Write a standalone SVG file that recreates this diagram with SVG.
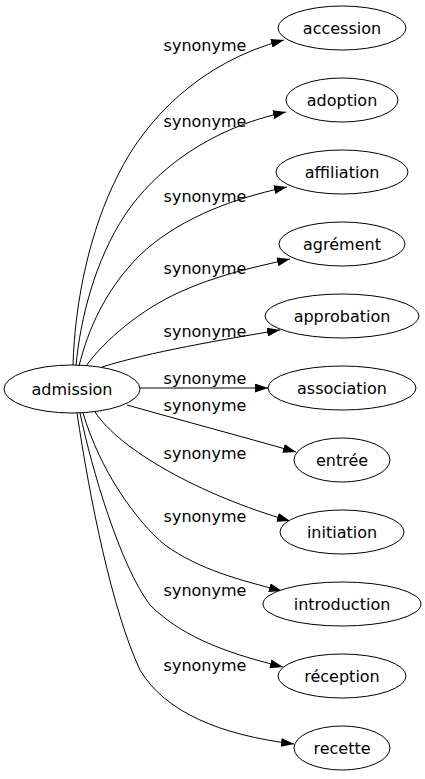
<svg xmlns="http://www.w3.org/2000/svg" width="425" height="779" viewBox="0 0 425 779">
<defs>
<marker id="arr" markerUnits="userSpaceOnUse" viewBox="0 0 13 9" refX="13" refY="4.5" markerWidth="13" markerHeight="9" orient="auto">
<path d="M0,0 L13,4.5 L0,9 z" fill="#000"/>
</marker>
<style>
.n ellipse{fill:#fff;stroke:#000;stroke-width:1}
.n text{font-family:"DejaVu Sans",sans-serif;font-size:16px;text-anchor:middle;fill:#000}
.e path{fill:none;stroke:#000;stroke-width:1;marker-end:url(#arr)}
.e text{font-family:"DejaVu Sans",sans-serif;font-size:16px;text-anchor:middle;fill:#000}
</style>
</defs>
<rect width="425" height="779" fill="#fff"/>
<g id="edges" class="e">
<path d="M73,365 C75,300 90,230 118,175 C145,120 200,62 284,40"/>
<path d="M76,366 C80,320 95,260 125,215 C155,170 210,128 286,112"/>
<path d="M79,366 C88,330 105,290 140,255 C175,222 225,200 287,187"/>
<path d="M86,366 C105,340 140,310 180,292 C215,276 250,268 290,259"/>
<path d="M102,367 C150,352 220,340 280,330"/>
<path d="M140,388 L268,388"/>
<path d="M127,405 C180,420 240,436 296,452"/>
<path d="M95,412 C120,450 200,495 290,521"/>
<path d="M83,413 C100,470 135,520 165,545 C200,570 240,580 282,591"/>
<path d="M80,413 C92,470 120,565 150,605 C185,640 235,655 283,667"/>
<path d="M77,413 C90,500 112,610 140,670 C165,712 220,735 294,744"/>
<text x="205" y="51">synonyme</text>
<text x="205" y="127">synonyme</text>
<text x="205" y="202">synonyme</text>
<text x="205" y="274">synonyme</text>
<text x="205" y="337">synonyme</text>
<text x="205" y="384">synonyme</text>
<text x="205" y="411">synonyme</text>
<text x="205" y="459">synonyme</text>
<text x="205" y="522">synonyme</text>
<text x="205" y="596">synonyme</text>
<text x="205" y="671">synonyme</text>
</g>
<g id="admission" class="n"><ellipse cx="72" cy="389" rx="68" ry="24"/><text x="72" y="395">admission</text></g>
<g id="accession" class="n"><ellipse cx="342" cy="28" rx="64" ry="22"/><text x="342" y="34">accession</text></g>
<g id="adoption" class="n"><ellipse cx="342" cy="100" rx="56" ry="22"/><text x="342" y="106">adoption</text></g>
<g id="affiliation" class="n"><ellipse cx="342" cy="172" rx="66" ry="22"/><text x="342" y="178">affiliation</text></g>
<g id="agrement" class="n"><ellipse cx="342" cy="244" rx="63" ry="22"/><text x="342" y="250">agrément</text></g>
<g id="approbation" class="n"><ellipse cx="342" cy="316" rx="77" ry="22"/><text x="342" y="322">approbation</text></g>
<g id="association" class="n"><ellipse cx="342" cy="388" rx="74" ry="22"/><text x="342" y="394">association</text></g>
<g id="entree" class="n"><ellipse cx="342" cy="460" rx="48" ry="22"/><text x="342" y="466">entrée</text></g>
<g id="initiation" class="n"><ellipse cx="342" cy="532" rx="62" ry="22"/><text x="342" y="538">initiation</text></g>
<g id="introduction" class="n"><ellipse cx="342" cy="604" rx="79" ry="22"/><text x="342" y="610">introduction</text></g>
<g id="reception" class="n"><ellipse cx="342" cy="676" rx="64" ry="22"/><text x="342" y="682">réception</text></g>
<g id="recette" class="n"><ellipse cx="342" cy="748" rx="48" ry="22"/><text x="342" y="754">recette</text></g>
</svg>
